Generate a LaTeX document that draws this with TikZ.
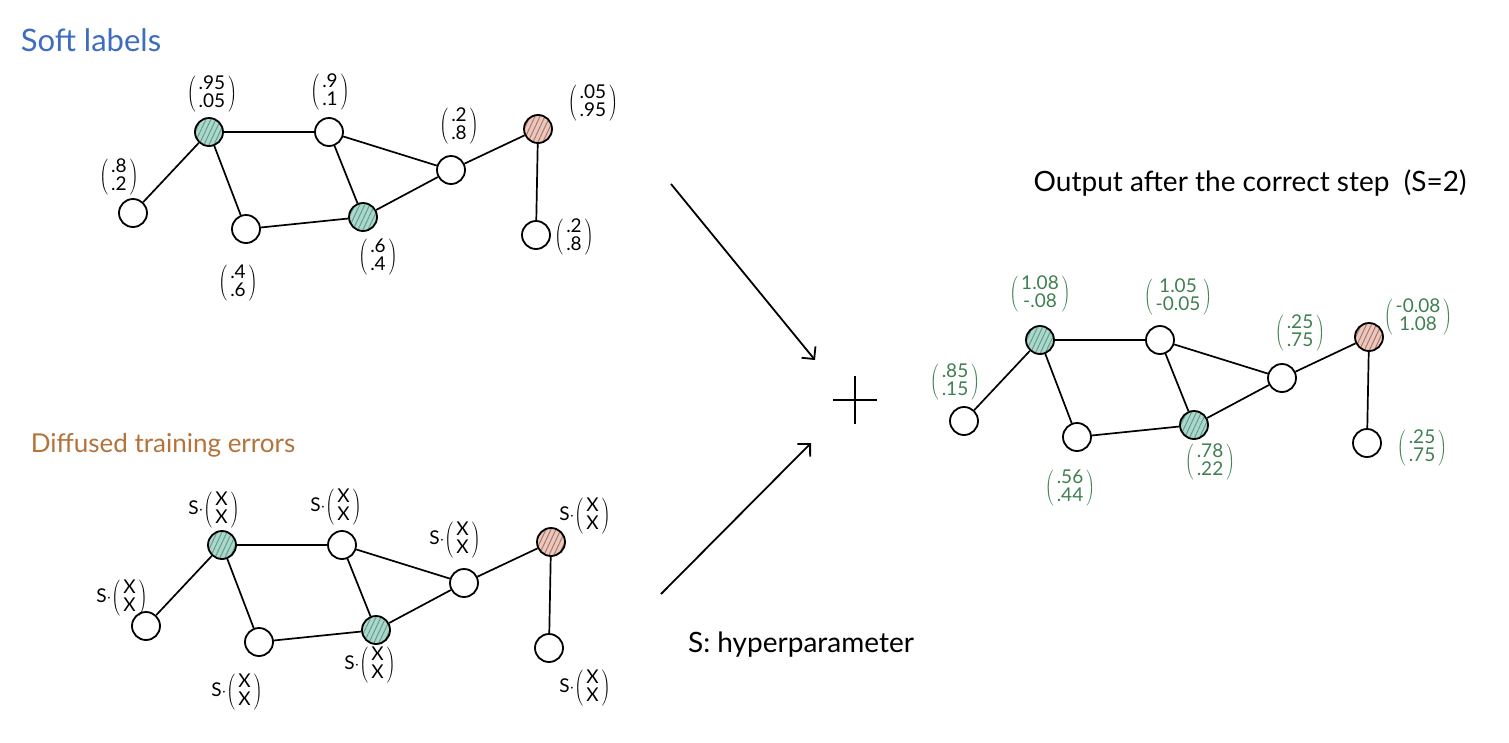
\documentclass[tikz,border=0pt]{standalone}
\usepackage{fontspec}
\setmainfont{Lato}
\usetikzlibrary{patterns.meta,arrows.meta}
\definecolor{tealfill}{HTML}{AED7CC}
\definecolor{tealhatch}{HTML}{5E9E8E}
\definecolor{redfill}{HTML}{E9C9BF}
\definecolor{redhatch}{HTML}{B07565}
\definecolor{titleblue}{HTML}{3D6CC0}
\definecolor{titlebrown}{HTML}{B5733A}
\definecolor{outgreen}{HTML}{3F8050}
\newcommand{\cvec}[2]{$\left(\vcenter{\hbox{\begin{tabular}{@{\,}c@{\,}}#1\\#2\end{tabular}}}\right)$}
\newcommand{\svec}[2]{S$\cdot$\cvec{#1}{#2}}
\tikzset{
  gnode/.style={circle, draw, line width=1.8pt, minimum size=28pt, inner sep=0pt},
  tnode/.style={gnode, preaction={fill=tealfill}, preaction={pattern={Lines[angle=65,distance=4.5pt,line width=1pt]}, pattern color=tealhatch}},
  rnode/.style={gnode, preaction={fill=redfill}, preaction={pattern={Lines[angle=65,distance=4.5pt,line width=1pt]}, pattern color=redhatch}},
  edge/.style={line width=1.7pt},
  lbl/.style={font=\fontsize{19}{16}\selectfont, inner sep=0pt},
  glbl/.style={lbl, text=outgreen},
  bigarrow/.style={line width=1.8pt, -{Straight Barb[length=9pt,width=18pt,line width=1.8pt]}},
  title/.style={inner sep=0pt}
}
\newcommand{\netgraph}{%
  \node[tnode] (A) at (209,132) {};
  \node[gnode] (B) at (329,132) {};
  \node[gnode] (C) at (451,170) {};
  \node[rnode] (D) at (538,129) {};
  \node[gnode] (E) at (133,213) {};
  \node[gnode] (F) at (246,229) {};
  \node[tnode] (G) at (363,217) {};
  \node[gnode] (H) at (536,235) {};
  \draw[edge] (A) -- (B);
  \draw[edge] (A) -- (E);
  \draw[edge] (A) -- (F);
  \draw[edge] (F) -- (G);
  \draw[edge] (B) -- (G);
  \draw[edge] (B) -- (C);
  \draw[edge] (G) -- (C);
  \draw[edge] (C) -- (D);
  \draw[edge] (D) -- (H);
}
\begin{document}
\begin{tikzpicture}[x=1pt,y=-1pt]
\useasboundingbox[fill=white] (0,0) rectangle (1509,742);

% titles
\node[title, text=titleblue, font=\fontsize{31}{31}\selectfont] (t1) at (91,40) {Soft labels};
\node[title, text=titlebrown, font=\fontsize{26}{26}\selectfont] (t2) at (163,445) {Diffused training errors};
\node[title, font=\fontsize{28}{28}\selectfont] (t3) at (1250,183) {Output after the correct step \ (S=2)};
\node[title, font=\fontsize{28}{28}\selectfont] (t4) at (801,645) {S: hyperparameter};

% top graph
\begin{scope}[name prefix=t-]
\netgraph
\end{scope}
\node[lbl] (t-la) at (212,94) {\cvec{.95}{.05}};
\node[lbl] (t-lb) at (330,92) {\cvec{.9}{.1}};
\node[lbl] (t-lc) at (459,126) {\cvec{.2}{.8}};
\node[lbl] (t-ld) at (593,103) {\cvec{.05}{.95}};
\node[lbl] (t-le) at (119,177) {\cvec{.8}{.2}};
\node[lbl] (t-lf) at (238,283) {\cvec{.4}{.6}};
\node[lbl] (t-lg) at (378,257) {\cvec{.6}{.4}};
\node[lbl] (t-lh) at (574,237) {\cvec{.2}{.8}};

% bottom graph
\begin{scope}[name prefix=b-, shift={(13,413)}]
\netgraph
\end{scope}
\node[lbl] (b-la) at (214,510) {\svec{X}{X}};
\node[lbl] (b-lb) at (336,507) {\svec{X}{X}};
\node[lbl] (b-lc) at (455,540) {\svec{X}{X}};
\node[lbl] (b-ld) at (585,516) {\svec{X}{X}};
\node[lbl] (b-le) at (122,598) {\svec{X}{X}};
\node[lbl] (b-lf) at (237,692) {\svec{X}{X}};
\node[lbl] (b-lg) at (370,665) {\svec{X}{X}};
\node[lbl] (b-lh) at (585,688) {\svec{X}{X}};

% output graph
\begin{scope}[name prefix=o-, shift={(831,208)}]
\netgraph
\end{scope}
\node[glbl] (o-la) at (1040,294) {\cvec{1.08}{-.08}};
\node[glbl] (o-lb) at (1178,297) {\cvec{1.05}{-0.05}};
\node[glbl] (o-lc) at (1300,333) {\cvec{.25}{.75}};
\node[glbl] (o-ld) at (1418,317) {\cvec{-0.08}{1.08}};
\node[glbl] (o-le) at (955,382) {\cvec{.85}{.15}};
\node[glbl] (o-lf) at (1070,488) {\cvec{.56}{.44}};
\node[glbl] (o-lg) at (1210,462) {\cvec{.78}{.22}};
\node[glbl] (o-lh) at (1422,448) {\cvec{.25}{.75}};

% arrows and plus
\coordinate (a1s) at (671,184);
\coordinate (a1e) at (815,360);
\coordinate (a2s) at (661,594);
\coordinate (a2e) at (811,443);
\draw[bigarrow] (a1s) -- (a1e);
\draw[bigarrow] (a2s) -- (a2e);
\coordinate (plus) at (855,400);
\draw[line width=1.8pt] ([xshift=-22pt]plus) -- ([xshift=22pt]plus);
\draw[line width=1.8pt] ([yshift=-24pt]plus) -- ([yshift=24pt]plus);
\end{tikzpicture}
\end{document}
